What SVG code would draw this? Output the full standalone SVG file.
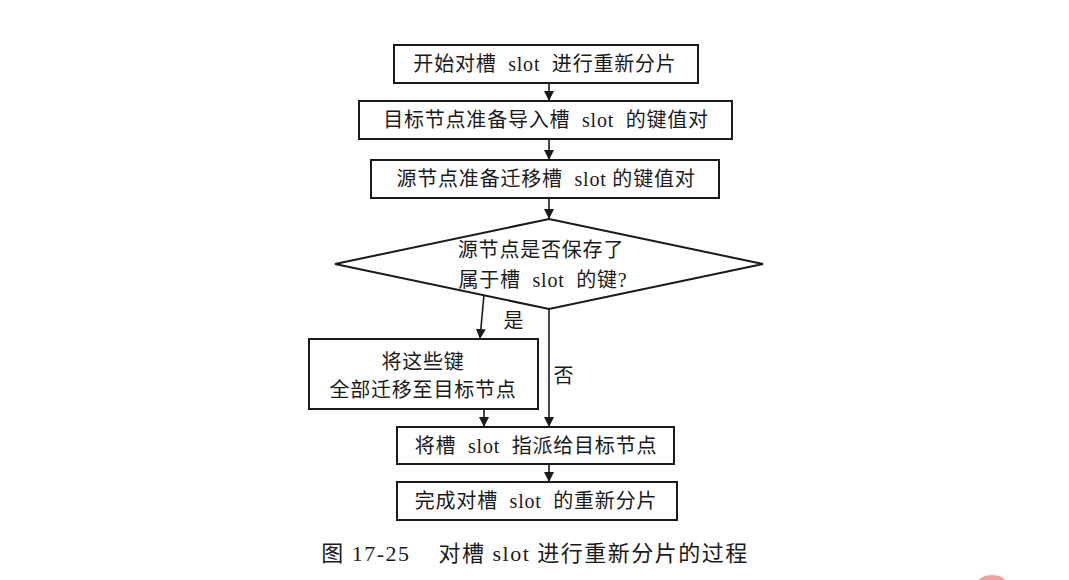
<svg xmlns="http://www.w3.org/2000/svg" width="1069" height="580" viewBox="0 0 1069 580">
<style>
.box{fill:#fff;stroke:#1a1a1a;stroke-width:2}
.t{font-family:"Liberation Serif","Noto Sans CJK SC",serif;font-size:20px;letter-spacing:0.8px;fill:#1a1a1a;text-anchor:middle;dominant-baseline:central}
.cap{font-size:22px;letter-spacing:1.5px}
.c{fill:none;stroke:#1a1a1a;stroke-width:1.6}
</style>
<defs>
<marker id="ah" markerWidth="10" markerHeight="12" refX="9" refY="5" orient="auto" markerUnits="userSpaceOnUse">
<path d="M0,0 L10,5 L0,10 Z" fill="#1a1a1a"/>
</marker>
</defs>
<rect width="1069" height="580" fill="#fff"/>
<g id="connectors">
<line class="c" x1="549" y1="83" x2="549" y2="100" marker-end="url(#ah)"/>
<line class="c" x1="549" y1="139" x2="549" y2="159" marker-end="url(#ah)"/>
<line class="c" x1="549" y1="198" x2="549" y2="218" marker-end="url(#ah)"/>
<line class="c" x1="484" y1="295" x2="480" y2="338" marker-end="url(#ah)"/>
<line class="c" x1="549" y1="309" x2="549" y2="426" marker-end="url(#ah)"/>
<line class="c" x1="484" y1="409" x2="484" y2="426" marker-end="url(#ah)"/>
<line class="c" x1="549" y1="464" x2="549" y2="481" marker-end="url(#ah)"/>
<text class="t" x="514" y="321">是</text>
<text class="t" x="564" y="376">否</text>
</g>
<g id="n1">
<rect class="box" x="394" y="45" width="304" height="38"/>
<text class="t" x="545" y="64">开始对槽&#160;&#160;slot&#160;&#160;进行重新分片</text>
</g>
<g id="n2">
<rect class="box" x="359" y="101" width="373" height="38"/>
<text class="t" x="546" y="120">目标节点准备导入槽&#160;&#160;slot&#160;&#160;的键值对</text>
</g>
<g id="n3">
<rect class="box" x="371" y="160" width="348" height="38"/>
<text class="t" x="546" y="179">源节点准备迁移槽&#160;&#160;slot&#160;的键值对</text>
</g>
<g id="n4">
<polygon class="box" points="549,219 763,264 549,309 335,264"/>
<text class="t" x="541" y="250">源节点是否保存了</text>
<text class="t" x="543" y="280">属于槽&#160;&#160;slot&#160;&#160;的键?</text>
</g>
<g id="n5">
<rect class="box" x="309" y="339" width="229" height="70"/>
<text class="t" x="423" y="362">将这些键</text>
<text class="t" x="423" y="390">全部迁移至目标节点</text>
</g>
<g id="n6">
<rect class="box" x="397" y="427" width="277" height="37"/>
<text class="t" x="536" y="446">将槽&#160;&#160;slot&#160;&#160;指派给目标节点</text>
</g>
<g id="n7">
<rect class="box" x="397" y="482" width="280" height="38"/>
<text class="t" x="536" y="501">完成对槽&#160;&#160;slot&#160;&#160;的重新分片</text>
</g>
<text class="t cap" x="535" y="553">图 17-25&#160;&#160;&#160;&#160;对槽 slot 进行重新分片的过程</text>
<ellipse cx="992" cy="583" rx="14" ry="8" fill="#f4a0a0"/>
</svg>
